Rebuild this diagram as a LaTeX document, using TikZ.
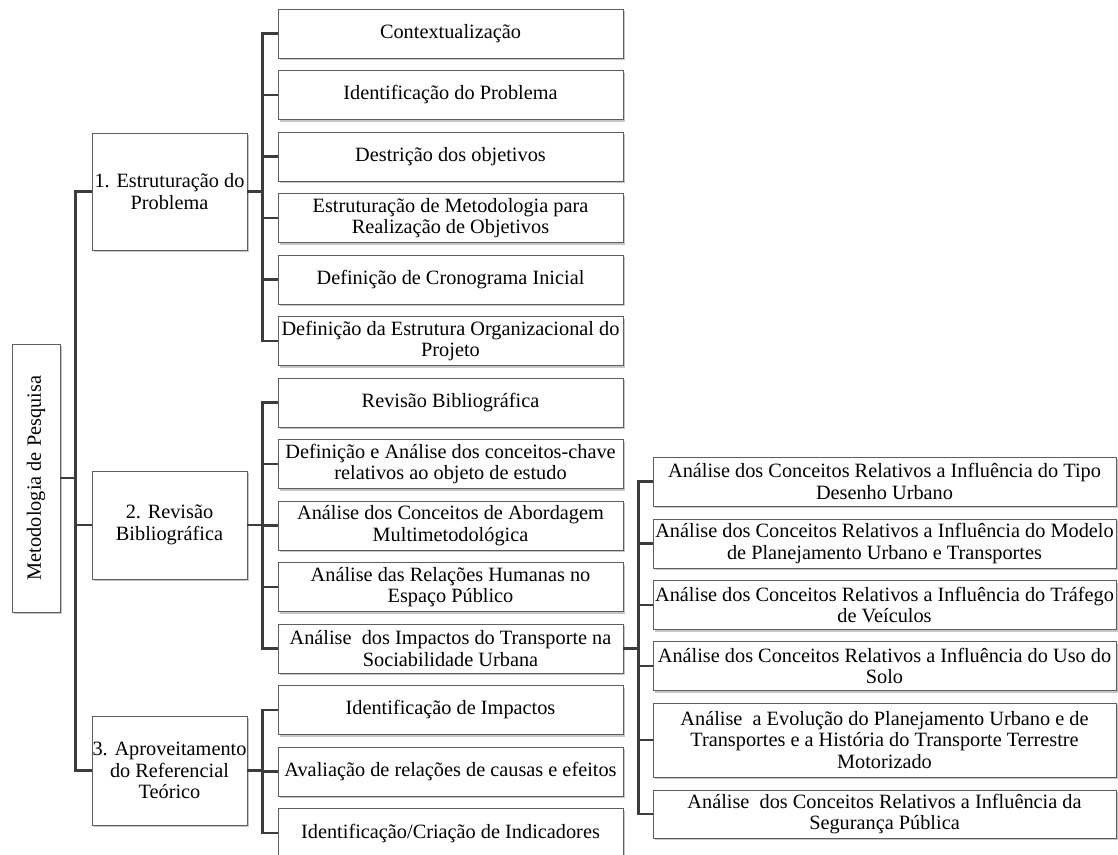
\documentclass[tikz,border=0pt]{standalone}
\usepackage{fontspec}
\setmainfont{Liberation Serif}
\usetikzlibrary{shadows}
\definecolor{boxline}{HTML}{5E5E5E}
\definecolor{connline}{HTML}{3C3C3C}
\begin{document}
\begin{tikzpicture}[x=1pt,y=-1pt,
    box/.style={draw=boxline,line width=0.9pt,fill=white,align=center,inner sep=0pt,
        font=\fontsize{20.3}{21.5}\selectfont,
        drop shadow={shadow xshift=2pt,shadow yshift=-2pt,opacity=0.45,fill=gray}},
    rootbox/.style={box,rotate=90,minimum width=268pt,minimum height=48pt},
    lvlone/.style={box,minimum width=155pt,minimum height=112pt},
    lvltwo/.style={box,minimum width=345pt,minimum height=49pt},
    lvlthree/.style={box,minimum width=463pt,minimum height=49pt},
    conn/.style={draw=connline,line width=2.6pt,line join=miter}]
    \useasboundingbox (0,0) rectangle (1118,854);

    % Root
    \node[rootbox] (root) at (36,478) {Metodologia de Pesquisa};

    % Level 1
    \node[lvlone,minimum height=117pt] (estr) at (169.5,191.5) {1. Estruturação do\\Problema};
    \node[lvlone,minimum height=108pt] (rev) at (169.5,525) {2. Revisão\\Bibliográfica};
    \node[lvlone,minimum height=109pt] (aprov) at (169.5,770.5) {3. Aproveitamento\\do Referencial\\Teórico};

    % Level 2 - estruturacao
    \node[lvltwo] (ctx) at (450.5,33.5) {Contextualização};
    \node[lvltwo] (idp) at (450.5,95) {Identificação do Problema};
    \node[lvltwo] (obj) at (450.5,156.5) {Destrição dos objetivos};
    \node[lvltwo] (met) at (450.5,218) {Estruturação de Metodologia para\\Realização de Objetivos};
    \node[lvltwo] (cron) at (450.5,279.5) {Definição de Cronograma Inicial};
    \node[lvltwo] (org) at (450.5,341) {Definição da Estrutura Organizacional do\\Projeto};

    % Level 2 - revisao
    \node[lvltwo] (rbib) at (450.5,402.5) {Revisão Bibliográfica};
    \node[lvltwo] (chave) at (450.5,464) {Definição e Análise dos conceitos-chave\\relativos ao objeto de estudo};
    \node[lvltwo] (multi) at (450.5,525.5) {Análise dos Conceitos de Abordagem\\Multimetodológica};
    \node[lvltwo] (rel) at (450.5,587) {Análise das Relações Humanas no\\Espaço Público};
    \node[lvltwo] (imp) at (450.5,648.5) {Análise\ \ dos Impactos do Transporte na\\Sociabilidade Urbana};

    % Level 2 - aproveitamento
    \node[lvltwo] (idi) at (450.5,710) {Identificação de Impactos};
    \node[lvltwo] (aval) at (450.5,771.5) {Avaliação de relações de causas e efeitos};
    \node[lvltwo] (ind) at (450.5,833) {Identificação/Criação de Indicadores};

    % Level 3
    \node[lvlthree] (tipo) at (884.5,481.5) {Análise dos Conceitos Relativos a Influência do Tipo\\Desenho Urbano};
    \node[lvlthree] (mod) at (884.5,543.5) {Análise dos Conceitos Relativos a Influência do Modelo\\de Planejamento Urbano e Transportes};
    \node[lvlthree] (traf) at (884.5,605) {Análise dos Conceitos Relativos a Influência do Tráfego\\de Veículos};
    \node[lvlthree] (uso) at (884.5,666) {Análise dos Conceitos Relativos a Influência do Uso do\\Solo};
    \node[lvlthree,minimum height=74pt] (evol) at (884.5,740) {Análise\ \ a Evolução do Planejamento Urbano e de\\Transportes e a História do Transporte Terrestre\\Motorizado};
    \node[lvlthree,minimum height=48pt] (seg) at (884.5,814) {Análise\ \ dos Conceitos Relativos a Influência da\\Segurança Pública};

    % Connectors root
    \draw[conn] (root.south) -- ++(15,0) |- (estr.west);
    \draw[conn] (root.south) -- ++(15,0) |- (rev.west);
    \draw[conn] (root.south) -- ++(15,0) |- (aprov.west);

    % Connectors estruturacao
    \draw[conn] (estr.east) -- ++(15,0) |- (ctx.west);
    \draw[conn] (estr.east) -- ++(15,0) |- (idp.west);
    \draw[conn] (estr.east) -- ++(15,0) |- (obj.west);
    \draw[conn] (estr.east) -- ++(15,0) |- (met.west);
    \draw[conn] (estr.east) -- ++(15,0) |- (cron.west);
    \draw[conn] (estr.east) -- ++(15,0) |- (org.west);

    % Connectors revisao
    \draw[conn] (rev.east) -- ++(15,0) |- (rbib.west);
    \draw[conn] (rev.east) -- ++(15,0) |- (chave.west);
    \draw[conn] (rev.east) -- ++(15,0) |- (multi.west);
    \draw[conn] (rev.east) -- ++(15,0) |- (rel.west);
    \draw[conn] (rev.east) -- ++(15,0) |- (imp.west);

    % Connectors aproveitamento
    \draw[conn] (aprov.east) -- ++(15,0) |- (idi.west);
    \draw[conn] (aprov.east) -- ++(15,0) |- (aval.west);
    \draw[conn] (aprov.east) -- ++(15,0) |- (ind.west);

    % Connectors impactos
    \draw[conn] (imp.east) -- ++(15,0) |- (tipo.west);
    \draw[conn] (imp.east) -- ++(15,0) |- (mod.west);
    \draw[conn] (imp.east) -- ++(15,0) |- (traf.west);
    \draw[conn] (imp.east) -- ++(15,0) |- (uso.west);
    \draw[conn] (imp.east) -- ++(15,0) |- (evol.west);
    \draw[conn] (imp.east) -- ++(15,0) |- (seg.west);
\end{tikzpicture}
\end{document}
